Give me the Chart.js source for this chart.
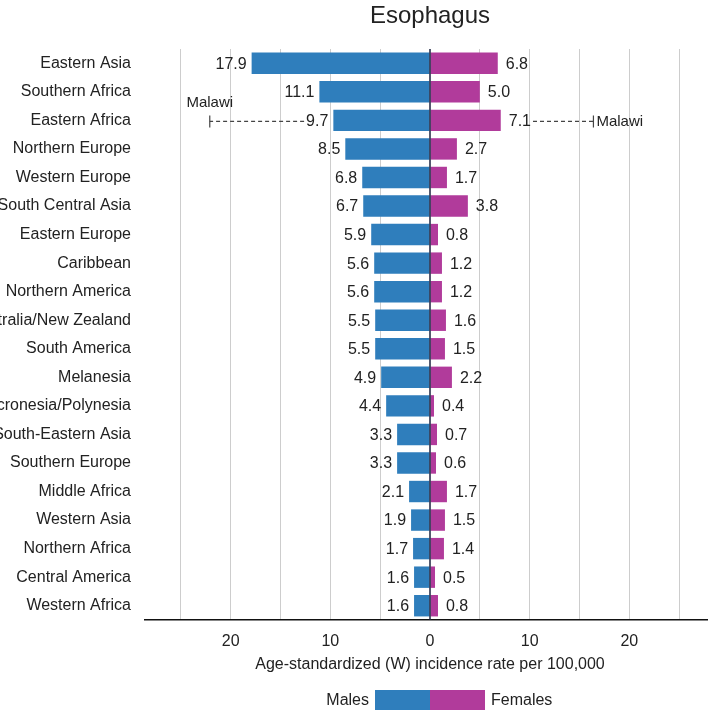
<!DOCTYPE html>
<html>
<head>
<meta charset="utf-8">
<script src="https://cdn.jsdelivr.net/npm/chart.js@4.4.0/dist/chart.umd.min.js"></script>
<style>
  html, body { margin: 0; padding: 0; background: #fff; overflow: hidden; }
  #wrap { position: relative; width: 708px; height: 710px; overflow: hidden; }
  #chart { position: absolute; left: -40px; top: 0; }
</style>
</head>
<body>
<div id="wrap"><canvas id="chart" width="760" height="710"></canvas></div>
<script>
// ------- Data -------
const regions = [
  'Eastern Asia', 'Southern Africa', 'Eastern Africa', 'Northern Europe', 'Western Europe',
  'South Central Asia', 'Eastern Europe', 'Caribbean', 'Northern America', 'Australia/New Zealand',
  'South America', 'Melanesia', 'Micronesia/Polynesia', 'South-Eastern Asia', 'Southern Europe',
  'Middle Africa', 'Western Asia', 'Northern Africa', 'Central America', 'Western Africa'
];
const males = [17.9, 11.1, 9.7, 8.5, 6.8, 6.7, 5.9, 5.6, 5.6, 5.5, 5.5, 4.9, 4.4, 3.3, 3.3, 2.1, 1.9, 1.7, 1.6, 1.6];
const females = [6.8, 5.0, 7.1, 2.7, 1.7, 3.8, 0.8, 1.2, 1.2, 1.6, 1.5, 2.2, 0.4, 0.7, 0.6, 1.7, 1.5, 1.4, 0.5, 0.8];

// highest country inside a region (whisker)
const maxRegion = 'Eastern Africa';
const maxCountry = 'Malawi';
const maxMale = 22.1;
const maxFemale = 16.4;

const titleText = 'Esophagus';
const axisTitle = 'Age-standardized (W) incidence rate per 100,000';
const seriesNames = ['Males', 'Females'];

const BLUE = '#2f7ebc';
const MAGENTA = '#b13b9b';
const TEXT = '#222';
const FONT = '"Liberation Sans", Arial, Helvetica, sans-serif';

// ------- Plugin: labels, whiskers, title, legend -------
const decorPlugin = {
  id: 'decor',
  afterDatasetsDraw(chart) {
    const ctx = chart.ctx;
    const xs = chart.scales.x;
    const area = chart.chartArea;
    const x0 = xs.getPixelForValue(0);

    // zero line on top of bars
    ctx.save();
    ctx.strokeStyle = '#1b2340';
    ctx.lineWidth = 1.5;
    ctx.beginPath();
    ctx.moveTo(x0, area.top);
    ctx.lineTo(x0, area.bottom);
    ctx.stroke();

    ctx.font = '16px ' + FONT;
    ctx.fillStyle = TEXT;
    ctx.textBaseline = 'middle';

    const mMeta = chart.getDatasetMeta(0);
    const fMeta = chart.getDatasetMeta(1);
    regions.forEach((r, i) => {
      const mb = mMeta.data[i];
      const fb = fMeta.data[i];
      const y = mb.y;
      const mTxt = males[i].toFixed(1);
      const fTxt = females[i].toFixed(1);
      ctx.textAlign = 'right';
      ctx.fillText(mTxt, mb.x - 5, y + 1);
      ctx.textAlign = 'left';
      ctx.fillText(fTxt, fb.x + 8, y + 1);

      if (r === maxRegion) {
        ctx.save();
        ctx.strokeStyle = '#444';
        ctx.lineWidth = 1.2;
        // males side
        const mLabelLeft = mb.x - 5 - ctx.measureText(mTxt).width - 2;
        const mCap = xs.getPixelForValue(-maxMale);
        ctx.setLineDash([4, 3]);
        ctx.beginPath();
        ctx.moveTo(mLabelLeft, y + 1);
        ctx.lineTo(mCap, y + 1);
        ctx.stroke();
        // females side
        const fLabelRight = fb.x + 8 + ctx.measureText(fTxt).width + 2;
        const fCap = xs.getPixelForValue(maxFemale);
        ctx.beginPath();
        ctx.moveTo(fLabelRight, y + 1);
        ctx.lineTo(fCap, y + 1);
        ctx.stroke();
        ctx.setLineDash([]);
        ctx.beginPath();
        ctx.moveTo(mCap, y - 5);
        ctx.lineTo(mCap, y + 7);
        ctx.moveTo(fCap, y - 5);
        ctx.lineTo(fCap, y + 7);
        ctx.stroke();
        ctx.restore();

        ctx.font = '15px ' + FONT;
        ctx.textAlign = 'center';
        ctx.fillText(maxCountry, mCap, y - 18);
        ctx.textAlign = 'left';
        ctx.fillText(maxCountry, fCap + 3, y + 1);
        ctx.font = '16px ' + FONT;
      }
    });
    ctx.restore();
  },
  afterDraw(chart) {
    const ctx = chart.ctx;
    const xs = chart.scales.x;
    const x0 = xs.getPixelForValue(0);
    ctx.save();
    ctx.fillStyle = TEXT;
    ctx.textBaseline = 'middle';
    ctx.textAlign = 'center';

    ctx.font = '24px ' + FONT;
    ctx.fillText(titleText, x0, 16);

    ctx.font = '16px ' + FONT;
    ctx.fillText(axisTitle, x0, 665);

    // legend
    ctx.fillStyle = BLUE;
    ctx.fillRect(x0 - 55, 690, 55, 24);
    ctx.fillStyle = MAGENTA;
    ctx.fillRect(x0, 690, 55, 24);
    ctx.fillStyle = TEXT;
    ctx.textAlign = 'right';
    ctx.fillText(seriesNames[0], x0 - 61, 701);
    ctx.textAlign = 'left';
    ctx.fillText(seriesNames[1], x0 + 61, 701);
    ctx.restore();
  }
};

// ------- Chart -------
const ctx = document.getElementById('chart').getContext('2d');
new Chart(ctx, {
  type: 'bar',
  data: {
    labels: regions,
    datasets: [
      { label: seriesNames[0], data: males.map(v => -v), backgroundColor: BLUE, borderWidth: 0 },
      { label: seriesNames[1], data: females, backgroundColor: MAGENTA, borderWidth: 0 }
    ]
  },
  options: {
    indexAxis: 'y',
    responsive: false,
    animation: false,
    barPercentage: 0.75,
    categoryPercentage: 1,
    layout: { padding: { top: 49, right: 4, bottom: 0, left: 0 } },
    plugins: {
      legend: { display: false },
      tooltip: { enabled: false },
      title: { display: false }
    },
    scales: {
      x: {
        stacked: true,
        min: -28.6,
        max: 28.7,
        afterFit: s => { s.height = 90; },
        grid: {
          drawTicks: false,
          lineWidth: 1,
          color: c => (c.tick && c.tick.value === 0) ? 'rgba(0,0,0,0)' : '#cdcdcd'
        },
        border: { display: true, color: '#111', width: 1.5 },
        ticks: {
          stepSize: 5,
          includeBounds: false,
          autoSkip: false,
          maxRotation: 0,
          padding: 12,
          color: TEXT,
          font: { family: FONT, size: 16 },
          callback: v => (v % 10 === 0 ? String(Math.abs(v)) : '')
        }
      },
      y: {
        stacked: true,
        afterFit: s => { s.width = 185; },
        grid: { display: false, drawTicks: false },
        border: { display: false },
        ticks: {
          padding: 14,
          color: TEXT,
          font: { family: FONT, size: 16 }
        }
      }
    }
  },
  plugins: [decorPlugin]
});
</script>
</body>
</html>
